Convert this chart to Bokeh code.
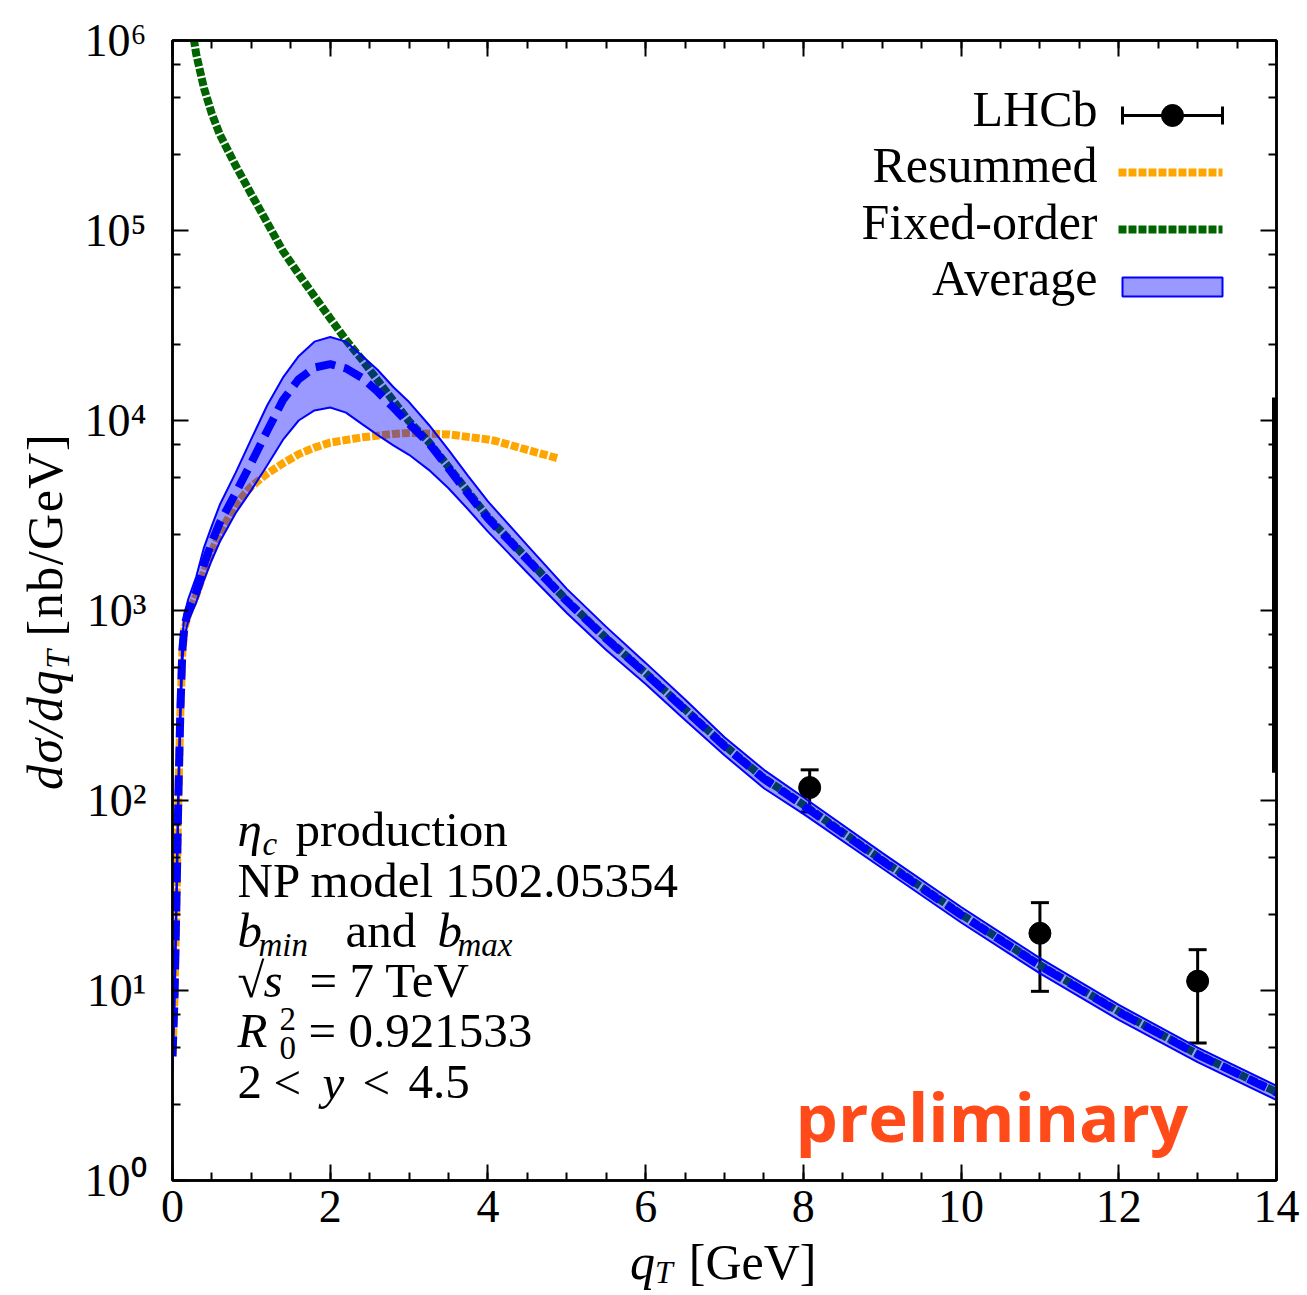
from math import pi
from bokeh.plotting import figure
from bokeh.layouts import row, column
from bokeh.models import (Range1d, FixedTicker, LinearAxis, LogAxis, Label, Div,
                          ColumnDataSource, Whisker, TeeHead)
from bokeh.embed import file_html
from bokeh.resources import INLINE

# ---------------- data ----------------
x_avg = [0.0, 0.025, 0.05, 0.075, 0.1, 0.125, 0.15, 0.2, 0.3, 0.4, 0.5, 0.6, 0.8,
         1.0, 1.2, 1.4, 1.6, 1.8, 2.0, 2.2, 2.4, 2.6, 2.8, 3.0, 3.25, 3.5, 3.75,
         4.0, 4.5, 5.0, 5.5, 6.0, 6.5, 7.0, 7.5, 8.0, 9.0, 10.0, 11.0, 12.0, 13.0, 14.0]
avg_mean = [4.5, 9, 30, 110, 300, 620, 820, 1000, 1250, 1750, 2300, 2900, 4150,
            6000, 8800, 12800, 16500, 19000, 19800, 18800, 16800, 14200, 11700, 9600,
            7600, 5600, 4100, 3050, 1850, 1120, 710, 465, 300, 193, 130, 94, 48, 25,
            13.5, 7.7, 4.6, 2.9]
avg_hi = [5.5, 11, 36, 135, 350, 720, 950, 1150, 1500, 2150, 2800, 3600, 5300,
          8000, 12000, 16800, 21800, 26000, 27500, 26000, 22000, 18500, 15000, 12500,
          9500, 7000, 5100, 3750, 2200, 1300, 820, 530, 340, 215, 145, 104, 53, 27.5,
          14.8, 8.4, 5.0, 3.15]
avg_lo = [3.8, 7.5, 25, 90, 250, 530, 720, 880, 1100, 1450, 1850, 2300, 3250,
          4300, 5800, 7900, 10000, 11300, 11700, 11000, 9600, 8400, 7400, 6600,
          5500, 4400, 3400, 2600, 1580, 970, 620, 410, 265, 173, 116, 85, 44, 22.8,
          12.3, 7.0, 4.2, 2.65]

x_res = [0.0, 0.025, 0.05, 0.075, 0.1, 0.125, 0.15, 0.2, 0.3, 0.4, 0.5, 0.6, 0.8,
         1.0, 1.2, 1.4, 1.6, 1.8, 2.0, 2.4, 2.8, 3.0, 3.5, 4.0, 4.1, 4.5, 4.9]
y_res = [4.5, 9, 29, 105, 290, 600, 800, 960, 1200, 1600, 2050, 2550, 3600,
         4500, 5250, 5950, 6650, 7200, 7650, 8150, 8500, 8600, 8450, 7950, 7800, 7000, 6300]

x_fo = [0.25, 0.3, 0.4, 0.5, 0.6, 0.8, 1.0, 1.2, 1.4, 1.6, 1.8, 2.0, 2.2, 2.4, 2.6,
        2.8, 3.0, 3.25, 3.5, 3.75, 4.0, 4.5, 5.0, 5.5, 6.0, 6.5, 7.0, 7.5, 8.0, 9.0,
        10.0, 11.0, 12.0, 13.0, 14.0]
y_fo = [1.15e6, 8.5e5, 5.6e5, 4.1e5, 3.2e5, 2.2e5, 1.55e5, 1.1e5, 7.8e4, 5.9e4,
        4.5e4, 3.45e4, 2.65e4, 2.1e4, 1.63e4, 1.27e4, 9.9e3, 7.7e3, 5.7e3, 4.2e3,
        3.1e3, 1.87e3, 1.13e3, 715, 468, 302, 195, 131, 95, 48.5, 25.2, 13.6, 7.75,
        4.62, 2.92]

lhcb_x = [8.08, 11.0, 13.0]
lhcb_y = [117, 20, 11.2]
lhcb_lo = [87, 9.9, 5.3]
lhcb_hi = [145, 29, 16.4]

edge_x = [14.0]
edge_lo, edge_hi = [140], [13200]

x_ticks = [0, 2, 4, 6, 8, 10, 12, 14]
x_minor = [i * 0.5 for i in range(29)]
y_ticks = [1, 10, 100, 1000, 10000, 100000, 1000000]
y_minor = [m * d for d in [1, 10, 100, 1000, 10000, 100000] for m in (2.5, 5, 7.5)]
y_tick_labels = {1: "10⁰", 10: "10¹", 100: "10²", 1000: "10³", 10000: "10⁴",
                 100000: "10⁵", 1000000: "10⁶"}

legend_names = ["LHCb", "Resummed", "Fixed-order", "Average"]

# ---------------- layout helpers ----------------
TOTAL_W, TOTAL_H = 1300, 1292
YDIV_W = 75                    # strip on the left holding the y title
FIG_H = 1250                   # figure height; strip below holds the x title
XDIV_H = TOTAL_H - FIG_H
FIG_W = TOTAL_W - YDIV_W
F_L, F_T, F_R, F_B = 172, 40, 1276, 1180          # frame in picture pixels
SERIF = "Liberation Serif"
BLUE = "#0000ff"
ORANGE = "#ffa500"
GREEN = "#006400"


def sx(px):   # picture x -> frame-relative screen x
    return px - F_L


def sy(py):   # picture y -> frame-relative screen y (upwards)
    return F_B - py


def xd(px):   # picture x -> data x (for legend sample glyphs)
    return (px - F_L) / ((F_R - F_L) / 14.0)


def yd(py):   # picture y -> data y (log axis)
    return 10 ** (6 - (py - F_T) / ((F_B - F_T) / 6.0))


p = figure(width=FIG_W, height=FIG_H, x_range=Range1d(0, 14), y_range=Range1d(1, 1e6),
           y_axis_type="log", output_backend="svg", toolbar_location=None,
           min_border_left=F_L - YDIV_W, min_border_top=F_T,
           min_border_right=TOTAL_W - F_R, min_border_bottom=FIG_H - F_B)
p.margin = (0, 0, 0, 0)
p.xgrid.visible = False
p.ygrid.visible = False
p.outline_line_color = "black"
p.outline_line_width = 2.5
p.background_fill_color = "white"
p.border_fill_color = "white"

xt = FixedTicker(ticks=x_ticks, minor_ticks=x_minor)
yt = FixedTicker(ticks=y_ticks, minor_ticks=y_minor)
bottom = p.xaxis[0]
left = p.yaxis[0]
bottom.ticker = xt
left.ticker = yt
left.major_label_overrides = y_tick_labels

top = LinearAxis(ticker=xt)
right = LogAxis(ticker=yt)
p.add_layout(top, "above")
p.add_layout(right, "right")

for ax in [bottom, left, top, right]:
    ax.axis_line_width = 2.5
    ax.axis_line_color = "black"
    ax.major_tick_line_width = 2
    ax.minor_tick_line_width = 2
    ax.major_tick_in = 16
    ax.major_tick_out = 0
    ax.minor_tick_in = 8
    ax.minor_tick_out = 0
    ax.major_label_text_font = SERIF
    ax.major_label_text_color = "black"
    ax.major_label_text_font_size = "46px"

for ax in [top, right]:
    ax.major_label_text_font_size = "6px"
    ax.major_label_text_color = None
    ax.major_label_standoff = 0

bottom.major_label_standoff = 10
left.major_label_standoff = 26

# ---------------- curves ----------------
p.line(x_res, y_res, line_color=ORANGE, line_width=8, line_dash="8 2")
p.line(x_fo, y_fo, line_color=GREEN, line_width=8, line_dash="8 2")
p.line(x_avg, avg_mean, line_color=BLUE, line_width=8, line_dash="20 9")
p.varea(x=x_avg, y1=avg_lo, y2=avg_hi, fill_color=BLUE, fill_alpha=0.4)
p.line(x_avg, avg_hi, line_color=BLUE, line_width=2)
p.line(x_avg, avg_lo, line_color=BLUE, line_width=2)

# ---------------- LHCb data ----------------
src = ColumnDataSource(dict(x=lhcb_x, y=lhcb_y, lo=lhcb_lo, hi=lhcb_hi))
p.add_layout(Whisker(base="x", lower="lo", upper="hi", source=src, dimension="height",
                     line_width=3, line_color="black",
                     lower_head=TeeHead(size=18, line_width=3, line_color="black"),
                     upper_head=TeeHead(size=18, line_width=3, line_color="black")))
p.scatter("x", "y", source=src, size=22, color="black")
p.segment(x0=edge_x, y0=edge_lo, x1=edge_x, y1=edge_hi, line_color="black", line_width=9)

# ---------------- legend (drawn by hand, text left of sample) ----------------
def txt(t, px, py, size=49, style="normal", align="left", font=SERIF, color="black"):
    # py is the wanted baseline; Bokeh anchors the label about 0.37 em above it
    p.add_layout(Label(x=sx(px), y=sy(py - 0.37 * size), x_units="screen", y_units="screen",
                       text=t, text_font=font, text_font_size=f"{size}px",
                       text_font_style=style, text_align=align,
                       text_baseline="alphabetic", text_color=color))


leg_base = [127, 183, 240, 296]
for name, b in zip(legend_names, leg_base):
    txt(name, 1097, b, size=50, align="right")

ly = yd(115)
p.segment(x0=[xd(1122)], y0=[ly], x1=[xd(1222)], y1=[ly], line_color="black", line_width=3)
p.segment(x0=[xd(1122), xd(1222)], y0=[yd(106), yd(106)], x1=[xd(1122), xd(1222)],
          y1=[yd(124), yd(124)], line_color="black", line_width=3)
p.scatter([xd(1172)], [ly], size=22, color="black")
p.line([xd(1118), xd(1222)], [yd(172), yd(172)], line_color=ORANGE, line_width=8, line_dash="8 2")
p.line([xd(1118), xd(1222)], [yd(229), yd(229)], line_color=GREEN, line_width=8, line_dash="8 2")
p.quad(left=[xd(1122)], right=[xd(1222)], top=[yd(277)], bottom=[yd(296)],
       fill_color=BLUE, fill_alpha=0.4, line_color=BLUE, line_width=2)

# ---------------- info block ----------------
SUB = 33
txt("η", 237, 847, style="italic")
txt("c", 262, 856, size=SUB, style="italic")
txt("production", 295, 847)
txt("NP model 1502.05354", 237, 898)
txt("b", 237, 948, style="italic")
txt("min", 258, 957, size=SUB, style="italic")
txt("and", 345, 948)
txt("b", 437, 948, style="italic")
txt("max", 457, 957, size=SUB, style="italic")
txt("√", 237, 998)
txt("s", 263, 998, style="italic")
txt("= 7 TeV", 309, 998)
txt("R", 237, 1048, style="italic")
txt("2", 279, 1031, size=SUB)
txt("0", 279, 1060, size=SUB)
txt("= 0.921533", 308, 1048)
txt("2", 237, 1100)
txt("<", 273, 1100)
txt("y", 322, 1100, style="italic")
txt("<", 362, 1100)
txt("4.5", 408, 1100)

# preliminary stamp
txt("preliminary", 795, 1140, size=67, style="bold", font="Open Sans", color="#ff4a1a")

# ---------------- axis titles (HTML text strips beside the figure) ----------------
FONT_CSS = "font-family:'Liberation Serif',serif;font-size:50px;line-height:50px;color:#000;white-space:nowrap;"
y_title_html = (
    f'<div style="position:absolute;left:{62 - 42}px;top:790px;transform:rotate(-90deg);'
    f'transform-origin:0 0;letter-spacing:1.5px;{FONT_CSS}">'
    '<i>dσ/dq</i><i style="font-size:34px;position:relative;top:7px;">T</i>'
    '<span style="margin-left:12px;">[nb/GeV]</span></div>'
)
x_base = 1279   # baseline of the x title in picture pixels
x_title_html = (
    f'<div style="position:absolute;left:{630 - YDIV_W}px;top:{x_base - FIG_H - 42}px;{FONT_CSS}">'
    '<i>q</i><i style="font-size:32px;position:relative;top:4px;">T</i>'
    '<span style="margin-left:16px;">[GeV]</span></div>'
)
ydiv = Div(text=y_title_html, width=YDIV_W, height=TOTAL_H, margin=(0, 0, 0, 0),
           styles={"overflow": "visible"})
xdiv = Div(text=x_title_html, width=FIG_W, height=XDIV_H, margin=(0, 0, 0, 0),
           styles={"overflow": "visible"})

layout = row(ydiv, column(p, xdiv, spacing=0), spacing=0)
layout.margin = (0, 0, 0, 0)

open("out.html", "w").write(file_html(layout, INLINE))
